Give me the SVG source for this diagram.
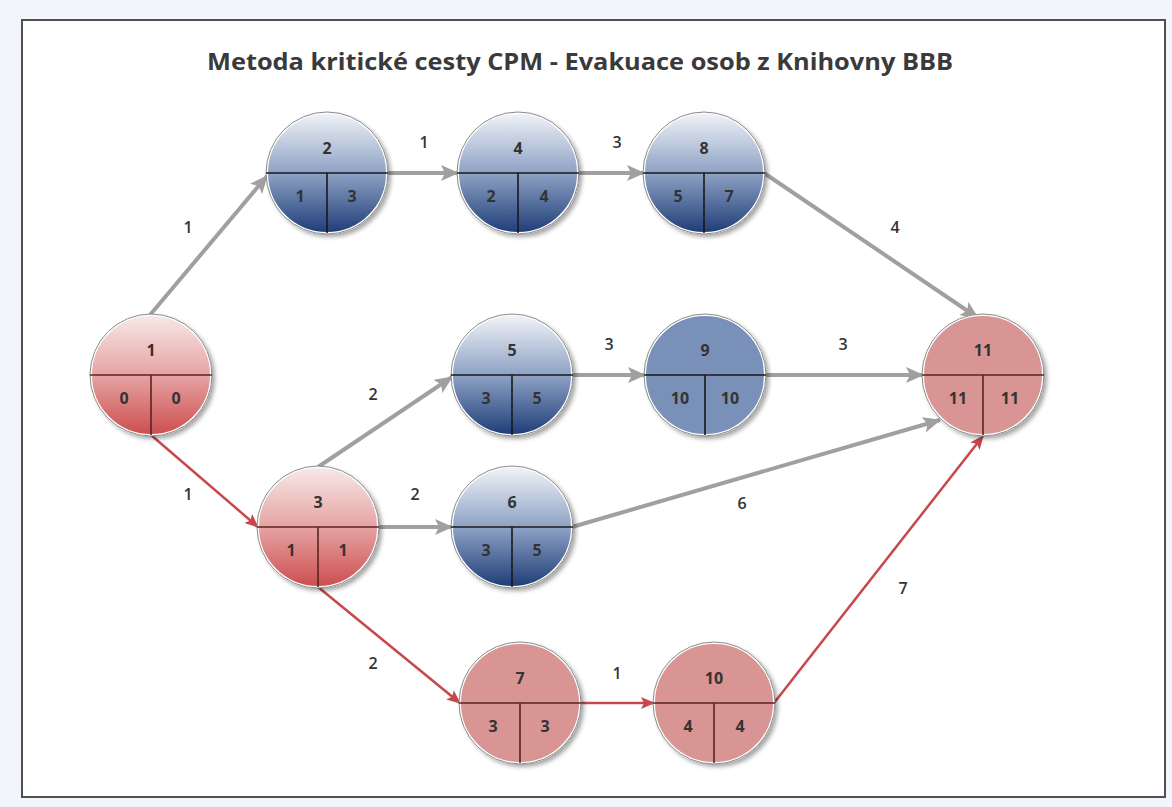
<svg xmlns="http://www.w3.org/2000/svg" width="1172" height="807" viewBox="0 0 1172 807">
<defs>
<linearGradient id="gRed" x1="0" y1="0" x2="0" y2="1">
<stop offset="0" stop-color="#f8e8e8"/>
<stop offset="0.5" stop-color="#e6a3a3"/>
<stop offset="1" stop-color="#cc4e4e"/>
</linearGradient>
<linearGradient id="gBlue" x1="0" y1="0" x2="0" y2="1">
<stop offset="0" stop-color="#f0f3f8"/>
<stop offset="0.5" stop-color="#8ea2c4"/>
<stop offset="1" stop-color="#1d3d78"/>
</linearGradient>
<filter id="sh" x="-20%" y="-20%" width="150%" height="150%">
<feDropShadow dx="3" dy="3" stdDeviation="2" flood-color="#000" flood-opacity="0.35"/>
</filter>
<marker id="aG" markerUnits="userSpaceOnUse" markerWidth="18" markerHeight="16" refX="17" refY="8" orient="auto">
<path d="M0,0 L18,8 L0,16 L4,8 Z" fill="#a0a0a0"/>
</marker>
<marker id="aR" markerUnits="userSpaceOnUse" markerWidth="14" markerHeight="12" refX="13" refY="6" orient="auto">
<path d="M0,0 L14,6 L0,12 L3,6 Z" fill="#c8474a"/>
</marker>
</defs>
<style>
.t{font-family:"Open Sans","Liberation Sans",sans-serif;font-weight:700;fill:#333;}
.title{font-size:24px;fill:#3a3a3a;}
.n{font-size:16px;text-anchor:middle;}
.e{font-family:"Open Sans","Liberation Sans",sans-serif;font-size:16px;text-anchor:middle;font-weight:600;fill:#333;}
.ring{stroke:#fff;stroke-width:2;}
.out{fill:none;stroke:#8a8a8a;stroke-width:1;}
.dv{stroke:#1a1a1a;stroke-width:1.6;fill:none;}
.dvr{stroke:#5a2424;stroke-width:1.6;fill:none;}
.cg{stroke:#a0a0a0;stroke-width:4;fill:none;}
.cr{stroke:#c8474a;stroke-width:2.5;fill:none;}
</style>
<rect width="1172" height="807" fill="#f2f5fb"/>
<rect x="22" y="20" width="1143" height="777" fill="#fff" stroke="#505050" stroke-width="2"/>
<text class="t title" x="580" y="70" text-anchor="middle" textLength="746" lengthAdjust="spacingAndGlyphs">Metoda kritické cesty CPM - Evakuace osob z Knihovny BBB</text>

<g id="connectors">
<line class="cg" x1="150" y1="315" x2="267" y2="176" marker-end="url(#aG)"/>
<line class="cg" x1="387" y1="173" x2="458" y2="173" marker-end="url(#aG)"/>
<line class="cg" x1="578" y1="173" x2="644" y2="173" marker-end="url(#aG)"/>
<line class="cg" x1="764" y1="173" x2="978" y2="318" marker-end="url(#aG)"/>
<line class="cr" x1="151" y1="435" x2="258" y2="527" marker-end="url(#aR)"/>
<line class="cg" x1="318" y1="467" x2="452" y2="377" marker-end="url(#aG)"/>
<line class="cg" x1="378" y1="527" x2="452" y2="527" marker-end="url(#aG)"/>
<line class="cr" x1="318" y1="587" x2="460" y2="703" marker-end="url(#aR)"/>
<line class="cg" x1="572" y1="375" x2="645" y2="375" marker-end="url(#aG)"/>
<line class="cg" x1="765" y1="375" x2="923" y2="375" marker-end="url(#aG)"/>
<line class="cg" x1="572" y1="527" x2="940" y2="420" marker-end="url(#aG)"/>
<line class="cr" x1="580" y1="703" x2="654" y2="703" marker-end="url(#aR)"/>
<line class="cr" x1="774" y1="703" x2="983" y2="436" marker-end="url(#aR)"/>
<text class="e" x="188" y="233">1</text>
<text class="e" x="424" y="148">1</text>
<text class="e" x="617" y="148">3</text>
<text class="e" x="895" y="233">4</text>
<text class="e" x="188" y="500">1</text>
<text class="e" x="373" y="400">2</text>
<text class="e" x="415" y="500">2</text>
<text class="e" x="373" y="669">2</text>
<text class="e" x="609" y="350">3</text>
<text class="e" x="843" y="350">3</text>
<text class="e" x="742" y="509">6</text>
<text class="e" x="617" y="679">1</text>
<text class="e" x="903" y="594">7</text>
</g>

<g id="node1">
<circle cx="151" cy="375" r="60" fill="url(#gRed)" class="ring" filter="url(#sh)"/>
<circle cx="151" cy="375" r="61" class="out"/>
<path class="dvr" d="M90,375 H212 M151,375 V435"/>
<text class="t n" x="151" y="356">1</text>
<text class="t n" x="124" y="404">0</text>
<text class="t n" x="176" y="404">0</text>
</g>
<g id="node2">
<circle cx="327" cy="173" r="60" fill="url(#gBlue)" class="ring" filter="url(#sh)"/>
<circle cx="327" cy="173" r="61" class="out"/>
<path class="dv" d="M266,173 H388 M327,173 V233"/>
<text class="t n" x="327" y="154">2</text>
<text class="t n" x="300" y="202">1</text>
<text class="t n" x="352" y="202">3</text>
</g>
<g id="node4">
<circle cx="518" cy="173" r="60" fill="url(#gBlue)" class="ring" filter="url(#sh)"/>
<circle cx="518" cy="173" r="61" class="out"/>
<path class="dv" d="M457,173 H579 M518,173 V233"/>
<text class="t n" x="518" y="154">4</text>
<text class="t n" x="491" y="202">2</text>
<text class="t n" x="544" y="202">4</text>
</g>
<g id="node8">
<circle cx="704" cy="173" r="60" fill="url(#gBlue)" class="ring" filter="url(#sh)"/>
<circle cx="704" cy="173" r="61" class="out"/>
<path class="dv" d="M643,173 H765 M704,173 V233"/>
<text class="t n" x="704" y="154">8</text>
<text class="t n" x="678" y="202">5</text>
<text class="t n" x="729" y="202">7</text>
</g>
<g id="node5">
<circle cx="512" cy="375" r="60" fill="url(#gBlue)" class="ring" filter="url(#sh)"/>
<circle cx="512" cy="375" r="61" class="out"/>
<path class="dv" d="M451,375 H573 M512,375 V435"/>
<text class="t n" x="512" y="356">5</text>
<text class="t n" x="486" y="404">3</text>
<text class="t n" x="537" y="404">5</text>
</g>
<g id="node9">
<circle cx="705" cy="375" r="60" fill="#7991b9" class="ring" filter="url(#sh)"/>
<circle cx="705" cy="375" r="61" class="out"/>
<path class="dv" d="M644,375 H766 M705,375 V435" stroke="#223355"/>
<text class="t n" x="705" y="356">9</text>
<text class="t n" x="680" y="404">10</text>
<text class="t n" x="730" y="404">10</text>
</g>
<g id="node11">
<circle cx="983" cy="375" r="60" fill="#d99494" class="ring" filter="url(#sh)"/>
<circle cx="983" cy="375" r="61" class="out"/>
<path class="dvr" d="M922,375 H1044 M983,375 V435"/>
<text class="t n" x="983" y="356">11</text>
<text class="t n" x="958" y="404">11</text>
<text class="t n" x="1010" y="404">11</text>
</g>
<g id="node3">
<circle cx="318" cy="527" r="60" fill="url(#gRed)" class="ring" filter="url(#sh)"/>
<circle cx="318" cy="527" r="61" class="out"/>
<path class="dvr" d="M257,527 H379 M318,527 V587"/>
<text class="t n" x="318" y="508">3</text>
<text class="t n" x="291" y="556">1</text>
<text class="t n" x="343" y="556">1</text>
</g>
<g id="node6">
<circle cx="512" cy="527" r="60" fill="url(#gBlue)" class="ring" filter="url(#sh)"/>
<circle cx="512" cy="527" r="61" class="out"/>
<path class="dv" d="M451,527 H573 M512,527 V587"/>
<text class="t n" x="512" y="508">6</text>
<text class="t n" x="486" y="556">3</text>
<text class="t n" x="537" y="556">5</text>
</g>
<g id="node7">
<circle cx="520" cy="703" r="60" fill="#d99494" class="ring" filter="url(#sh)"/>
<circle cx="520" cy="703" r="61" class="out"/>
<path class="dvr" d="M459,703 H581 M520,703 V763"/>
<text class="t n" x="520" y="684">7</text>
<text class="t n" x="493" y="732">3</text>
<text class="t n" x="545" y="732">3</text>
</g>
<g id="node10">
<circle cx="714" cy="703" r="60" fill="#d99494" class="ring" filter="url(#sh)"/>
<circle cx="714" cy="703" r="61" class="out"/>
<path class="dvr" d="M653,703 H775 M714,703 V763"/>
<text class="t n" x="714" y="684">10</text>
<text class="t n" x="688" y="732">4</text>
<text class="t n" x="740" y="732">4</text>
</g>
</svg>
